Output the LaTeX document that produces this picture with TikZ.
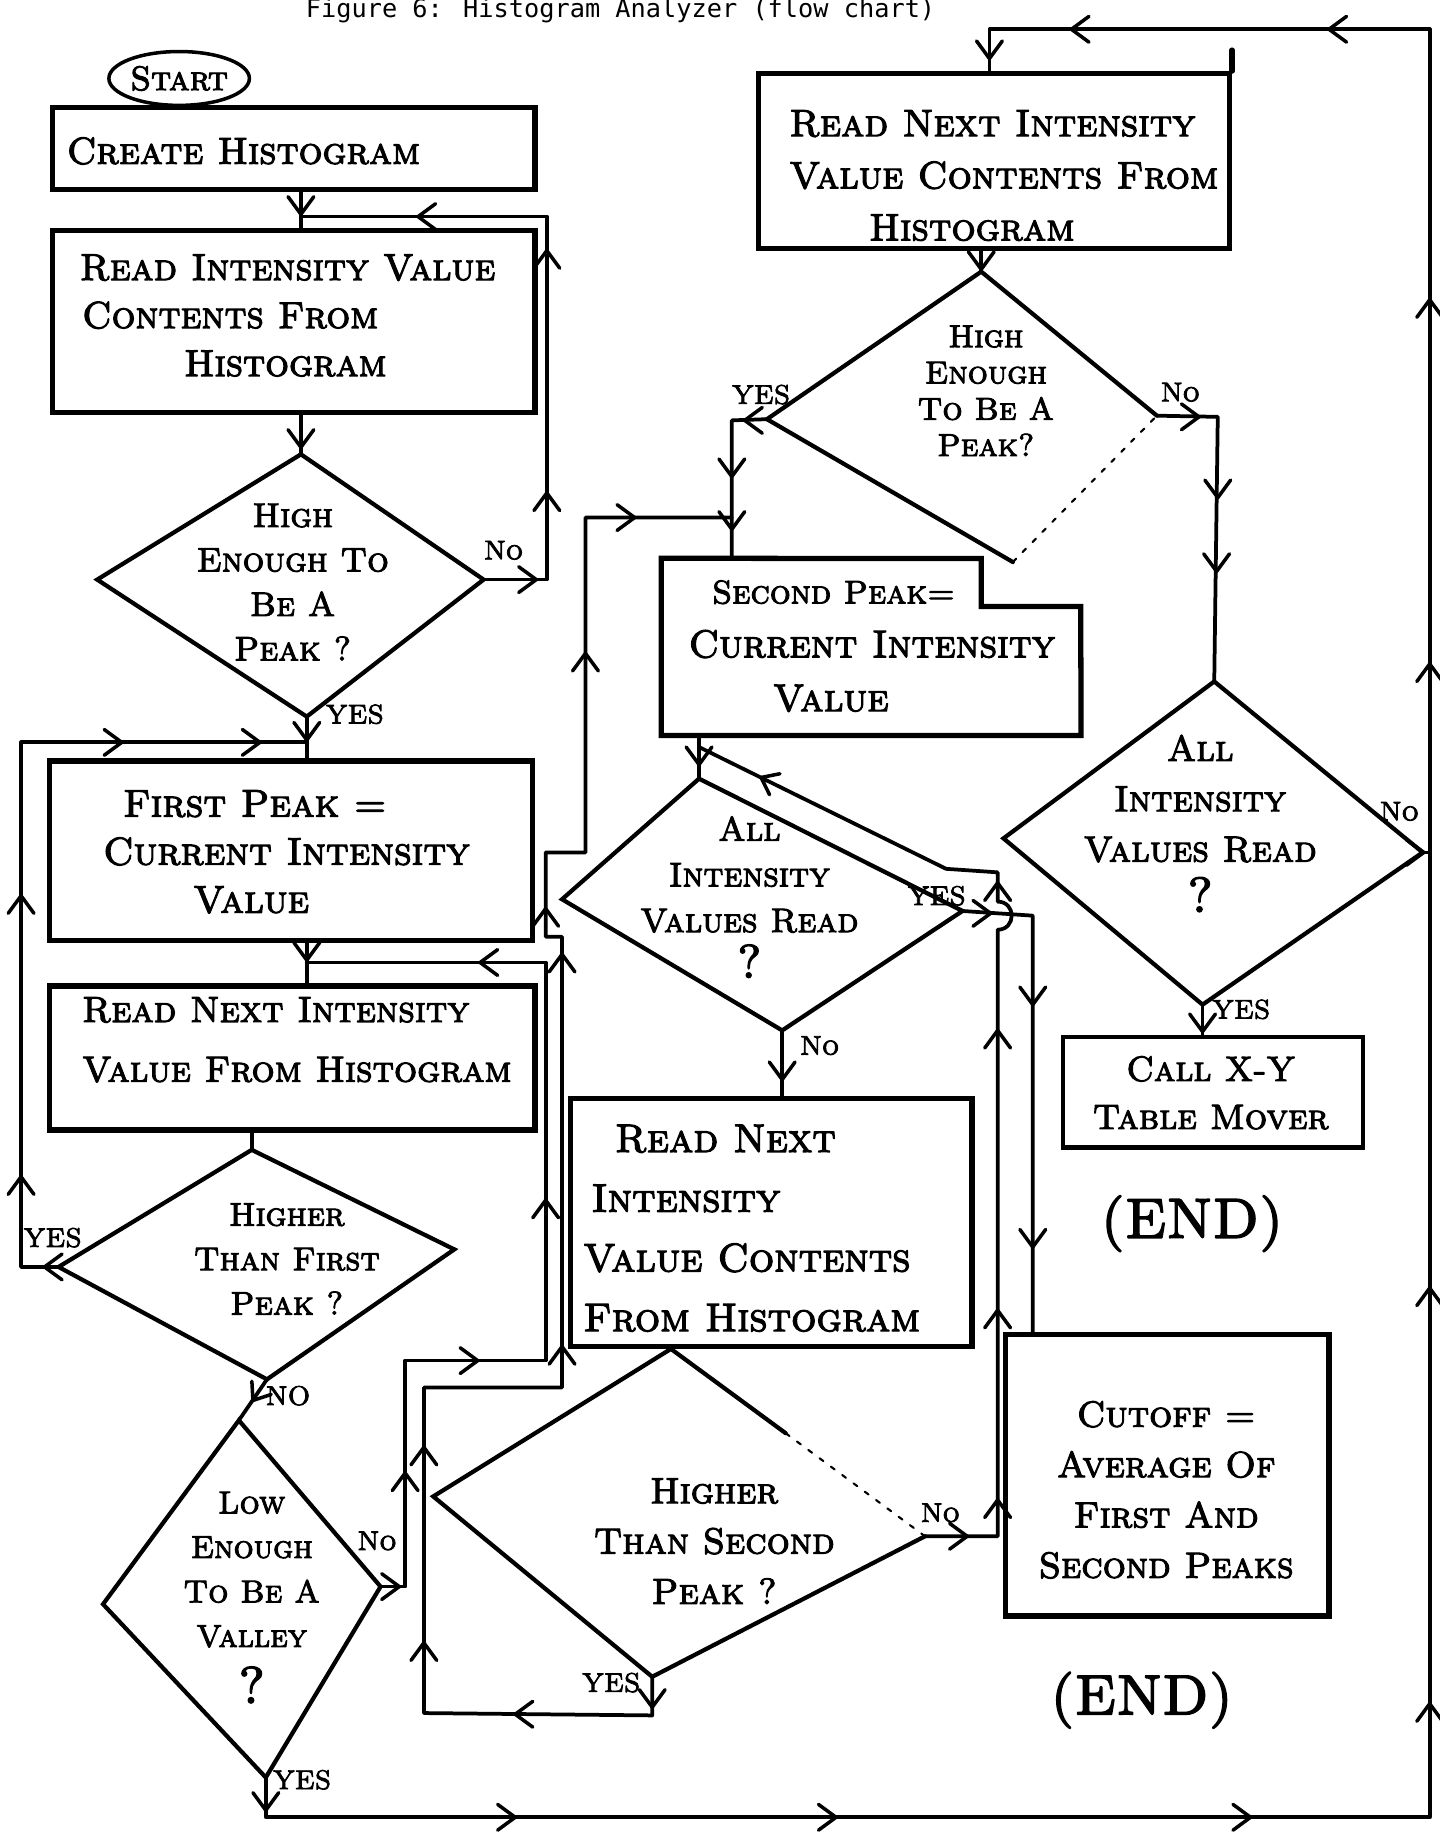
\documentclass[tikz,border=0pt]{standalone}
\usepackage{fontspec}
\newfontfamily\hand{lmromancaps10-regular.otf}[FakeBold=3]
\newfontfamily\titlefont{DejaVu Sans Mono}
\usetikzlibrary{shapes.geometric}
\newcommand\hfs[2]{\hand\fontsize{#1}{#2}\selectfont}
\newcommand\tipR[2]{\draw[tipst] (#1-15,#2-11) -- (#1,#2) -- (#1-15,#2+11);}
\newcommand\tipL[2]{\draw[tipst] (#1+15,#2-11) -- (#1,#2) -- (#1+15,#2+11);}
\newcommand\tipD[2]{\draw[tipst] (#1-11,#2-15) -- (#1,#2) -- (#1+11,#2-15);}
\newcommand\tipU[2]{\draw[tipst] (#1-11,#2+15) -- (#1,#2) -- (#1+11,#2+15);}
\begin{document}
\begin{tikzpicture}[x=1pt,y=-1pt,line cap=round,line join=round,
 box/.style={draw,rectangle,line width=4.5pt,inner sep=0pt,line join=miter},
 boxline/.style={line width=4.5pt,line join=miter},
 conn/.style={line width=3.2pt},
 dia/.style={line width=3.6pt,line join=miter},
 faintline/.style={line width=1.8pt,dash pattern=on 4pt off 8pt},
 tipst/.style={line width=3pt},
 lbl/.style={inner sep=0pt,font=\hfs{23}{23}},
 btxt/.style={inner sep=0pt,align=left,anchor=north west},
 ctxt/.style={inner sep=0pt,align=center,anchor=north}]
\fill[white] (0,0) rectangle (1229,1568);
\useasboundingbox (0,0) rectangle (1229,1568);

% title
\node[inner sep=0pt,anchor=base,font=\titlefont\fontsize{21.6}{22}\selectfont] (title) at (530,15) {Figure 6: Histogram Analyzer (flow chart)};

% ---------- left column ----------
\node[draw,ellipse,line width=3pt,minimum width=120pt,minimum height=46pt,inner sep=0pt,font=\hfs{29}{29}] (start) at (153,67) {Start};

\node[box,minimum width=412pt,minimum height=70pt] (create) at (251,127) {};
\node[btxt,font=\hfs{32}{41}] (createt) at (57,117.1) {Create Histogram};

\node[box,minimum width=412pt,minimum height=155pt] (read1) at (251,274.5) {};
\node[btxt,font=\hfs{32}{41}] (read1t) at (68,217.1) {Read Intensity Value\\\hspace*{2pt}Contents From\\\hspace*{89pt}Histogram};

\coordinate (d1n) at (257,388); \coordinate (d1e) at (413,495);
\coordinate (d1s) at (262,612); \coordinate (d1w) at (83,495);
\draw[dia] (d1n) -- (d1e) -- (d1s) -- (d1w) -- cycle;
\node[ctxt,font=\hfs{29}{38}] (d1t) at (250,430) {High\\Enough To\\Be A\\Peak ?};

\node[box,minimum width=413pt,minimum height=153pt] (first) at (248.5,726.5) {};
\node[btxt,font=\hfs{33}{41}] (firstt) at (88,674.7) {\hspace*{17pt}First Peak =\\Current Intensity\\\hspace*{77pt}Value};

\node[box,minimum width=415pt,minimum height=123pt] (read2) at (249.5,903.5) {};
\node[btxt,font=\hfs{31}{51}] (read2t) at (70,851.4) {Read Next Intensity\\Value From Histogram};

\coordinate (d2n) at (215,982); \coordinate (d2e) at (388,1067);
\coordinate (d2s) at (228,1178); \coordinate (d2w) at (50,1082);
\draw[dia] (d2n) -- (d2e) -- (d2s) -- (d2w) -- cycle;
\node[ctxt,font=\hfs{28}{38}] (d2t) at (245,1027.4) {Higher\\Than First\\Peak ?};

\coordinate (d4n) at (204,1213); \coordinate (d4e) at (325,1355);
\coordinate (d4s) at (227,1518); \coordinate (d4w) at (88,1370);
\draw[dia] (d4n) -- (d4e) -- (d4s) -- (d4w) -- cycle;
\node[ctxt,font=\hfs{27}{38}] (d4t) at (215,1273.8) {Low\\Enough\\To Be A\\Valley\\[10pt]{\fontsize{44}{44}\selectfont ?}};

% ---------- right part ----------
\node[box,minimum width=402pt,minimum height=149pt] (read3) at (849,137.5) {};
\draw[boxline] (read3.north east) -- ++(0,-18);
\node[btxt,font=\hfs{32.5}{44.5}] (read3t) at (674,93.9) {Read Next Intensity\\Value Contents From\\\hspace*{68pt}Histogram};

\coordinate (d3n) at (838,232); \coordinate (d3e) at (988,355);
\coordinate (d3s) at (865,480); \coordinate (d3w) at (655,358);
\draw[dia] (d3e) -- (d3n) -- (d3w) -- (d3s);
\draw[faintline] (d3s) -- (d3e);
\node[ctxt,font=\hfs{27}{31}] (d3t) at (842,277.8) {High\\Enough\\To Be A\\Peak?};

\node[inner sep=0pt,minimum width=358pt,minimum height=151pt] (second) at (744,552.5) {};
\draw[boxline] (second.north west) -- (838,477) -- (838,518) -- (923,518) -- (second.south east) -- (second.south west) -- cycle;
\node[btxt,font=\hfs{33}{46}] (secondt) at (588,495.4) {\hspace*{20pt}{\fontsize{28}{46}\selectfont Second Peak=}\\Current Intensity\\\hspace*{72pt}Value};

\coordinate (d5n) at (597,665); \coordinate (d5e) at (822,778);
\coordinate (d5s) at (668,880); \coordinate (d5w) at (480,768);
\draw[dia] (d5n) -- (d5e) -- (d5s) -- (d5w) -- cycle;
\node[ctxt,font=\hfs{29}{39}] (d5t) at (640,697) {All\\Intensity\\Values Read\\{\fontsize{40}{40}\selectfont ?}};

\node[box,minimum width=343pt,minimum height=212pt] (read4) at (658.5,1044) {};
\node[btxt,font=\hfs{34}{51}] (read4t) at (498,960.4) {\hspace*{27pt}Read Next\\\hspace*{7pt}Intensity\\Value Contents\\From Histogram};

\coordinate (d7n) at (573,1152); \coordinate (d7e) at (790,1312);
\coordinate (d7s) at (557,1432); \coordinate (d7w) at (370,1278);
\coordinate (d7m) at (671,1224);
\draw[dia] (d7m) -- (d7n) -- (d7w) -- (d7s) -- (d7e);
\draw[faintline] (d7m) -- (d7e);
\node[ctxt,font=\hfs{31}{43}] (d7t) at (610,1262.4) {Higher\\Than Second\\Peak ?};

\node[box,minimum width=276pt,minimum height=240pt] (cutoff) at (997,1260) {};
\node[ctxt,font=\hfs{31}{43}] (cutofft) at (996,1196.4) {Cutoff =\\Average Of\\First And\\Second Peaks};

\coordinate (d6n) at (1037,582); \coordinate (d6e) at (1215,728);
\coordinate (d6s) at (1027,858); \coordinate (d6w) at (857,716);
\draw[dia] (d6n) -- (d6e) -- (d6s) -- (d6w) -- cycle;
\node[ctxt,font=\hfs{31}{43}] (d6t) at (1025,627.4) {All\\Intensity\\Values Read\\{\fontsize{42}{42}\selectfont ?}};

\node[box,line width=3.5pt,minimum width=256pt,minimum height=94pt] (call) at (1036,933) {};
\node[ctxt,font=\hfs{30}{41}] (callt) at (1034,901.8) {Call X-Y\\Table Mover};

\node[inner sep=0pt,font=\hfs{48}{48}] (end1) at (1018,1045) {(END)};
\node[inner sep=0pt,font=\hfs{48}{48}] (end2) at (975,1452) {(END)};

% ---------- connectors ----------
\coordinate (j1) at (257,185);
\draw[conn] (create.south -| j1) -- (read1.north -| j1);
\tipD{257}{183}
\coordinate (n1a) at (467,495); \coordinate (n1b) at (467,185);
\draw[conn] (d1e) -- (n1a) -- (n1b) -- (j1);
\tipR{458}{495} \tipU{467}{421} \tipU{467}{214} \tipL{357}{185}

\draw[conn] (read1.south -| d1n) -- (d1n);
\tipD{257}{382}

\coordinate (j2) at (262,634);
\draw[conn] (d1s) -- (first.north -| d1s);
\tipD{262}{632}
\coordinate (y2a) at (18,1082); \coordinate (y2b) at (18,634);
\draw[conn] (d2w) -- (y2a) -- (y2b) -- (j2);
\tipL{38}{1082} \tipU{18}{1005} \tipU{18}{765} \tipR{104}{634} \tipR{222}{634}

\coordinate (j3) at (262,822);
\draw[conn] (first.south -| j3) -- (read2.north -| j3);
\tipD{262}{820}
\draw[conn] (read2.south -| d2n) -- (d2n);
\draw[conn] (d2s) -- (d4n);
\draw[tipst] (231.6,1190.9) -- (216,1196) -- (215.1,1179.6);

\coordinate (n4a) at (346,1355); \coordinate (n4b) at (346,1162);
\coordinate (n4c) at (466,1162); \coordinate (n4d) at (466,822);
\draw[conn] (d4e) -- (n4a) -- (n4b) -- (n4c) -- (n4d) -- (j3);
\tipR{341}{1355} \tipU{346}{1258} \tipR{408}{1162} \tipU{466}{1025} \tipL{410}{822}

\coordinate (y4a) at (227,1552); \coordinate (y4b) at (1221,1552);
\coordinate (y4c) at (1221,25); \coordinate (y4d) at (845,25);
\draw[conn] (d4s) -- (y4a) -- (y4b) -- (y4c) -- (y4d) -- (read3.north -| y4d);
\tipD{227}{1546} \tipR{440}{1552} \tipR{714}{1552} \tipR{1068}{1552}
\tipU{1221}{1455} \tipU{1221}{1100} \tipU{1221}{567} \tipU{1221}{256}
\tipL{915}{25} \tipL{1135}{25} \tipD{845}{50}

\draw[conn] (read3.south -| d3n) -- (d3n);
\tipD{838}{230}
\coordinate (n3a) at (1040,356);
\draw[conn] (d3e) -- (n3a) -- (d6n);
\tipR{1024}{356} \tipD{1040}{425} \tipD{1039}{488}

\coordinate (y3a) at (625,359); \coordinate (j4) at (625,442);
\draw[conn] (d3w) -- (y3a) -- (second.north -| y3a);
\tipL{636}{359} \tipD{625}{407} \tipD{625}{452}

\draw[conn] (second.south -| d5n) -- (d5n);
\tipD{597}{653}

\coordinate (n7a) at (852,1312); \coordinate (h1) at (852,794);
\coordinate (h2) at (852,770); \coordinate (n7b) at (852,745);
\coordinate (n7c) at (808,742); \coordinate (j5) at (597,638);
\draw[conn] (d7e) -- (n7a) -- (h1) .. controls (868,794) and (868,770) .. (h2) -- (n7b) -- (n7c) -- (j5);
\tipR{826}{1312} \tipU{852}{1281} \tipU{852}{1119} \tipU{852}{880} \tipU{852}{754}
\draw[tipst] (666.1,660.8) -- (650,664) -- (657.2,678.7);

\coordinate (y5a) at (882,782);
\draw[conn] (d5e) -- (y5a) -- (cutoff.north -| y5a);
\tipR{846}{780} \tipD{882}{858} \tipD{882}{1065}

\draw[conn] (d5s) -- (read4.north -| d5s);
\tipD{668}{922}
\draw[conn] (read4.south -| d7n) -- (d7n);

\coordinate (y7a) at (557,1465); \coordinate (y7b) at (362,1463);
\coordinate (y7c) at (362,1185); \coordinate (y7d) at (480,1185);
\coordinate (y7e) at (480,800); \coordinate (y7f) at (466,800);
\coordinate (y7g) at (466,728); \coordinate (y7h) at (500,728);
\coordinate (y7i) at (500,442);
\draw[conn] (d7s) -- (y7a) -- (y7b) -- (y7c) -- (y7d) -- (y7e) -- (y7f) -- (y7g) -- (y7h) -- (y7i) -- (j4);
\tipD{557}{1458} \tipL{440}{1464} \tipU{362}{1403} \tipU{362}{1236} \tipU{480}{1150}
\tipU{480}{815} \tipU{466}{776} \tipU{500}{558} \tipR{542}{442}

\coordinate (j6) at (1221,728);
\draw[conn] (d6e) -- (j6);
\tipR{1216}{728}
\draw[conn] (d6s) -- (call.north -| d6s);
\tipD{1027}{881}

% ---------- labels ----------
\node[lbl] (l1) at (430,470) {No};
\node[lbl] (l2) at (303,610) {YES};
\node[lbl] (l3) at (45,1057) {YES};
\node[lbl] (l4) at (246,1192) {NO};
\node[lbl] (l5) at (322,1316) {No};
\node[lbl] (l6) at (258,1520) {YES};
\node[lbl] (l7) at (650,337) {YES};
\node[lbl] (l8) at (1008,335) {No};
\node[lbl] (l9) at (800,765) {YES};
\node[lbl] (l10) at (700,893) {No};
\node[lbl] (l11) at (803,1292) {No};
\node[lbl] (l12) at (522,1437) {YES};
\node[lbl] (l13) at (1195,693) {No};
\node[lbl] (l14) at (1060,862) {YES};
\end{tikzpicture}
\end{document}
